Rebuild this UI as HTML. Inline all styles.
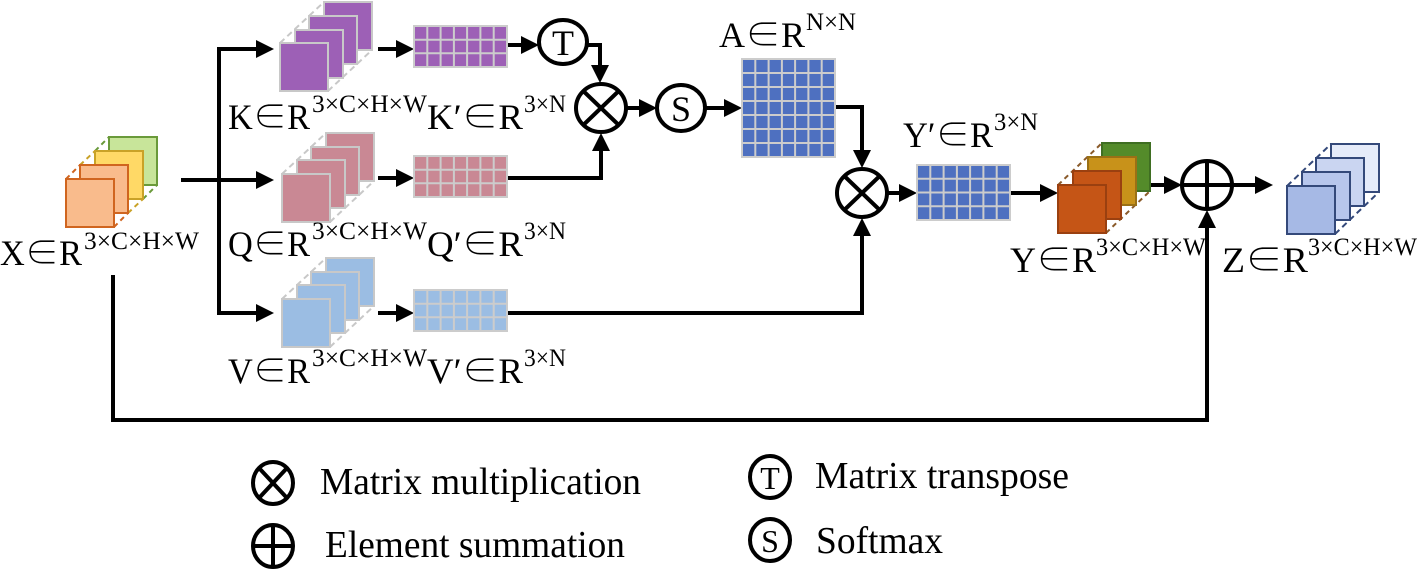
<!DOCTYPE html>
<html><head><meta charset="utf-8"><style>
html,body{margin:0;padding:0;background:#fff;}
svg{display:block;}
text{font-family:"Liberation Serif",serif;fill:#000;}
.e{font-family:"Noto Serif CJK SC","Liberation Serif",serif;}
</style></head><body>
<svg width="1419" height="570" viewBox="0 0 1419 570" xmlns="http://www.w3.org/2000/svg">
<g stroke="#000" stroke-width="4" fill="none">
<line x1="181" y1="180" x2="262" y2="180"/>
<polyline points="262,49 219,49 219,313 262,313"/>
<line x1="378" y1="49" x2="402" y2="49"/>
<line x1="378" y1="178" x2="402" y2="178"/>
<line x1="378" y1="313" x2="402" y2="313"/>
<line x1="507" y1="45" x2="527" y2="45"/>
<polyline points="587,45 600,45 600,70"/>
<polyline points="507,178 601,178 601,146"/>
<line x1="627" y1="108" x2="645" y2="108"/>
<line x1="706" y1="108" x2="729" y2="108"/>
<polyline points="835,107 862,107 862,156"/>
<polyline points="507,313 862,313 862,231"/>
<line x1="887" y1="193" x2="905" y2="193"/>
<line x1="1010" y1="193" x2="1046" y2="193"/>
<line x1="1150" y1="185" x2="1169" y2="185"/>
<line x1="1232" y1="185" x2="1260" y2="185"/>
<polyline points="113,275 113,420 1207,420 1207,223"/>
</g>
<g fill="#000">
<polygon points="274,49 256,40 256,58"/>
<polygon points="274,180 256,171 256,189"/>
<polygon points="274,313 256,304 256,322"/>
<polygon points="414,49 396,40 396,58"/>
<polygon points="414,178 396,169 396,187"/>
<polygon points="414,313 396,304 396,322"/>
<polygon points="539,45 521,36 521,54"/>
<polygon points="600,83 591,65 609,65"/>
<polygon points="601,133 592,151 610,151"/>
<polygon points="657,108 639,99 639,117"/>
<polygon points="742,108 724,99 724,117"/>
<polygon points="862,168 853,150 871,150"/>
<polygon points="862,218 853,236 871,236"/>
<polygon points="917,193 899,184 899,202"/>
<polygon points="1058,193 1040,184 1040,202"/>
<polygon points="1182,185 1164,176 1164,194"/>
<polygon points="1273,185 1255,176 1255,194"/>
<polygon points="1207,210 1198,228 1216,228"/>
</g>

<g stroke-width="2">
<line x1="95" y1="151" x2="109" y2="137" stroke="#6A9A3A" stroke-dasharray="5,4"/>
<line x1="143" y1="199" x2="157" y2="185" stroke="#6A9A3A" stroke-dasharray="5,4"/>
<rect x="109" y="137" width="48" height="48" fill="#C8E59A" stroke="#6A9A3A"/>
<line x1="80" y1="165" x2="95" y2="151" stroke="#C9A227" stroke-dasharray="5,4"/>
<line x1="128" y1="213" x2="143" y2="199" stroke="#C9A227" stroke-dasharray="5,4"/>
<rect x="95" y="151" width="48" height="48" fill="#FFD966" stroke="#C9A227"/>
<line x1="66" y1="179" x2="80" y2="165" stroke="#D0651F" stroke-dasharray="5,4"/>
<line x1="114" y1="227" x2="128" y2="213" stroke="#D0651F" stroke-dasharray="5,4"/>
<rect x="80" y="165" width="48" height="48" fill="#F9BB8C" stroke="#D0651F"/>
<rect x="66" y="179" width="48" height="48" fill="#F9BB8C" stroke="#D0651F"/>
</g>

<g stroke="#c8c8c8" stroke-width="2">
<g stroke-dasharray="6,4"><line x1="280" y1="43" x2="324" y2="2"/><line x1="328" y1="91" x2="372" y2="50"/></g>
<rect x="324" y="2" width="48" height="48" fill="#9D60B6"/>
<rect x="309" y="16" width="48" height="48" fill="#9D60B6"/>
<rect x="295" y="30" width="48" height="48" fill="#9D60B6"/>
<rect x="280" y="43" width="48" height="48" fill="#9D60B6"/>
</g>
<g stroke="#c8c8c8" stroke-width="2">
<g stroke-dasharray="6,4"><line x1="282" y1="174" x2="326" y2="133"/><line x1="330" y1="222" x2="374" y2="181"/></g>
<rect x="326" y="133" width="48" height="48" fill="#C98894"/>
<rect x="311" y="147" width="48" height="48" fill="#C98894"/>
<rect x="297" y="160" width="48" height="48" fill="#C98894"/>
<rect x="282" y="174" width="48" height="48" fill="#C98894"/>
</g>
<g stroke="#c8c8c8" stroke-width="2">
<g stroke-dasharray="6,4"><line x1="282" y1="299" x2="326" y2="258"/><line x1="330" y1="347" x2="374" y2="306"/></g>
<rect x="326" y="258" width="48" height="48" fill="#9BBDE3"/>
<rect x="311" y="272" width="48" height="48" fill="#9BBDE3"/>
<rect x="297" y="285" width="48" height="48" fill="#9BBDE3"/>
<rect x="282" y="299" width="48" height="48" fill="#9BBDE3"/>
</g>

<g stroke-width="2">
<g stroke-dasharray="5,4" stroke="#8A5A2A"><line x1="1058" y1="185" x2="1102" y2="143"/><line x1="1106" y1="233" x2="1150" y2="191"/></g>
<rect x="1102" y="143" width="48" height="48" fill="#548B2A" stroke="#3F6E22"/>
<rect x="1088" y="157" width="48" height="48" fill="#C8921A" stroke="#9A7015"/>
<rect x="1073" y="171" width="48" height="48" fill="#C55516" stroke="#9A4010"/>
<rect x="1058" y="185" width="48" height="48" fill="#C55516" stroke="#9A4010"/>
</g>
<g stroke-width="2" stroke="#34497A">
<g stroke-dasharray="6,4"><line x1="1287" y1="186" x2="1331" y2="144"/><line x1="1335" y1="234" x2="1379" y2="192"/></g>
<rect x="1331" y="144" width="48" height="48" fill="#E5EBF9"/>
<rect x="1316" y="158" width="48" height="48" fill="#CAD5F1"/>
<rect x="1302" y="172" width="48" height="48" fill="#B7C6EC"/>
<rect x="1287" y="186" width="48" height="48" fill="#A6B9E5"/>
</g>

<g stroke="#cccccc" stroke-width="2">
<rect x="414" y="26" width="93" height="41" fill="#9D60B6"/>
<path d="M427.3 26V67M440.6 26V67M453.9 26V67M467.1 26V67M480.4 26V67M493.7 26V67M414 39.7H507M414 53.3H507"/>
<rect x="414" y="156" width="93" height="41" fill="#C98894"/>
<path d="M427.3 156V197M440.6 156V197M453.9 156V197M467.1 156V197M480.4 156V197M493.7 156V197M414 169.7H507M414 183.3H507"/>
<rect x="414" y="290" width="93" height="41" fill="#9BBDE3"/>
<path d="M427.3 290V331M440.6 290V331M453.9 290V331M467.1 290V331M480.4 290V331M493.7 290V331M414 303.7H507M414 317.3H507"/>
<rect x="742" y="59" width="93" height="98" fill="#4E70C0"/>
<path d="M755.3 59V157M768.6 59V157M781.9 59V157M795.1 59V157M808.4 59V157M821.7 59V157M742 73H835M742 87H835M742 101H835M742 115H835M742 129H835M742 143H835"/>
<rect x="917" y="165" width="93" height="55" fill="#4E70C0"/>
<path d="M930.3 165V220M943.6 165V220M956.9 165V220M970.1 165V220M983.4 165V220M996.7 165V220M917 178.8H1010M917 192.5H1010M917 206.3H1010"/>
</g>

<g stroke="#000" stroke-width="4" fill="#fff">
<ellipse cx="563" cy="42" rx="24" ry="22"/>
<ellipse cx="601" cy="108" rx="25" ry="24"/>
<ellipse cx="681" cy="108" rx="24" ry="23"/>
<ellipse cx="862" cy="193" rx="25" ry="24"/>
<ellipse cx="1207" cy="185" rx="25" ry="24"/>
<path d="M583.3 91L618.7 125M618.7 91L583.3 125" fill="none"/>
<path d="M844.3 176L879.7 210M879.7 176L844.3 210" fill="none"/>
<path d="M1182 185H1232M1207 161V209" fill="none"/>
</g>
<text x="563" y="55" font-size="36" text-anchor="middle">T</text>
<text x="681" y="121" font-size="36" text-anchor="middle">S</text>

<g font-size="36">
<text x="0" y="265" textLength="82" lengthAdjust="spacingAndGlyphs">X<tspan class="e">∈</tspan>R</text>
<text x="228" y="129" textLength="82" lengthAdjust="spacingAndGlyphs">K<tspan class="e">∈</tspan>R</text>
<text x="427" y="129" textLength="96" lengthAdjust="spacingAndGlyphs">K′<tspan class="e">∈</tspan>R</text>
<text x="228" y="256" textLength="82" lengthAdjust="spacingAndGlyphs">Q<tspan class="e">∈</tspan>R</text>
<text x="427" y="256" textLength="96" lengthAdjust="spacingAndGlyphs">Q′<tspan class="e">∈</tspan>R</text>
<text x="228" y="383" textLength="82" lengthAdjust="spacingAndGlyphs">V<tspan class="e">∈</tspan>R</text>
<text x="427" y="383" textLength="96" lengthAdjust="spacingAndGlyphs">V′<tspan class="e">∈</tspan>R</text>
<text x="719" y="47" textLength="86" lengthAdjust="spacingAndGlyphs">A<tspan class="e">∈</tspan>R</text>
<text x="903" y="147" textLength="90" lengthAdjust="spacingAndGlyphs">Y′<tspan class="e">∈</tspan>R</text>
<text x="1010" y="272" textLength="86" lengthAdjust="spacingAndGlyphs">Y<tspan class="e">∈</tspan>R</text>
<text x="1222" y="272" textLength="86" lengthAdjust="spacingAndGlyphs">Z<tspan class="e">∈</tspan>R</text>
</g>
<g font-size="25">
<text x="84" y="249" textLength="115" lengthAdjust="spacingAndGlyphs">3×C×H×W</text>
<text x="312" y="112" textLength="115" lengthAdjust="spacingAndGlyphs">3×C×H×W</text>
<text x="524" y="112" textLength="42" lengthAdjust="spacingAndGlyphs">3×N</text>
<text x="312" y="239" textLength="115" lengthAdjust="spacingAndGlyphs">3×C×H×W</text>
<text x="524" y="239" textLength="42" lengthAdjust="spacingAndGlyphs">3×N</text>
<text x="312" y="366" textLength="115" lengthAdjust="spacingAndGlyphs">3×C×H×W</text>
<text x="524" y="366" textLength="42" lengthAdjust="spacingAndGlyphs">3×N</text>
<text x="806" y="30" textLength="50" lengthAdjust="spacingAndGlyphs">N×N</text>
<text x="994" y="130" textLength="44" lengthAdjust="spacingAndGlyphs">3×N</text>
<text x="1096" y="255" textLength="110" lengthAdjust="spacingAndGlyphs">3×C×H×W</text>
<text x="1308" y="255" textLength="109" lengthAdjust="spacingAndGlyphs">3×C×H×W</text>
</g>

<g stroke="#000" stroke-width="4" fill="#fff">
<ellipse cx="273" cy="483" rx="20" ry="21"/>
<path d="M259 468L287 498M287 468L259 498" fill="none"/>
<ellipse cx="273" cy="546" rx="20" ry="21"/>
<path d="M253 546H293M273 525V567" fill="none"/>
<ellipse cx="770" cy="477" rx="20" ry="21"/>
<ellipse cx="770" cy="540" rx="20" ry="21"/>
</g>
<text x="770" y="489" font-size="32" text-anchor="middle">T</text>
<text x="770" y="552" font-size="32" text-anchor="middle">S</text>
<g font-size="38">
<text x="320" y="494" textLength="321" lengthAdjust="spacingAndGlyphs">Matrix multiplication</text>
<text x="325" y="557" textLength="300" lengthAdjust="spacingAndGlyphs">Element summation</text>
<text x="815" y="488" textLength="254" lengthAdjust="spacingAndGlyphs">Matrix transpose</text>
<text x="816" y="553" textLength="127" lengthAdjust="spacingAndGlyphs">Softmax</text>
</g>
</svg>
</body></html>
